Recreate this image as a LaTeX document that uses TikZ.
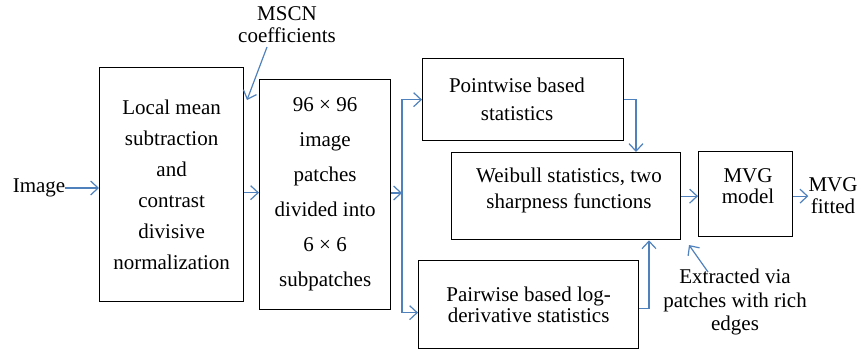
\documentclass[tikz,border=0pt]{standalone}
\usepackage{fontspec}
\newfontfamily\diagfont{Liberation Serif}
\usetikzlibrary{arrows.meta}
\definecolor{flowblue}{RGB}{79,129,189}
\newcommand\txt[1]{\diagfont\fontsize{21}{#1}\selectfont}
\tikzset{
  box/.style={draw=black, line width=1.3pt, inner sep=0pt, anchor=north west},
  lbl/.style={align=center, inner sep=0pt, font=\txt{23}},
  arr/.style={draw=flowblue, line width=1.2pt, -{Straight Barb[length=7.5pt,width=14pt,line width=1.2pt]}},
}
\begin{document}
\begin{tikzpicture}[x=1pt, y=-1pt]
\useasboundingbox (0,0) rectangle (858,353);

% processing blocks
\node[box, minimum width=144pt, minimum height=234pt, align=center,
      font=\txt{31}] (b1) at (99,67)
  {Local mean\\subtraction\\and\\contrast\\divisive\\normalization};
\node[box, minimum width=131pt, minimum height=230pt, align=center,
      font=\txt{35}] (b2) at (259,79)
  {96 × 96\\image\\patches\\divided into\\6 × 6\\subpatches};
\node[box, minimum width=201pt, minimum height=82pt] (pw) at (422,58) {};
\node[box, minimum width=229pt, minimum height=87pt] (wb) at (451,152) {};
\node[box, minimum width=94pt, minimum height=85pt] (mvg) at (698,151) {};
\node[box, minimum width=220pt, minimum height=88pt, align=center,
      font=\txt{21.5}] (pair) at (418,260)
  {Pairwise based log-\\derivative statistics};

% labels
\node[lbl] (img) at (39,188) {Image};
\node[lbl, font=\txt{22}] (mscn) at (287,25) {MSCN\\coefficients};
\node[lbl, font=\txt{28}] (pwtxt) at (517,99) {Pointwise based\\statistics};
\node[lbl, font=\txt{26}] (wbtxt) at (569,190) {Weibull statistics, two\\sharpness functions};
\node[lbl, font=\txt{21}] (mvgtxt) at (748,186) {MVG\\model};
\node[lbl, font=\txt{22}] (fitted) at (833,196) {MVG\\fitted};
\node[lbl, font=\txt{23.5}] (extr) at (735,302) {Extracted via\\patches with rich\\edges};

% helper points for the routed connectors
\coordinate (split) at (402,193);
\coordinate (pwDrop) at (636,0);
\coordinate (pairRise) at (649,0);
\coordinate (mscnFoot) at (267,47);
\coordinate (mscnTip) at (247,100);
\coordinate (extrFoot) at (708,272);
\coordinate (extrTip) at (689,245);

% connectors
\draw[arr] (img.east) -- (img.east -| b1.west);
\draw[arr] ([yshift=-8pt]b1.east) -- ([yshift=-8pt]b1.east -| b2.west);
\draw[arr] (b2.east |- split) -- (split);
\draw[arr] (split) |- (pw.west);
\draw[arr] (split) |- ([yshift=-8pt]pair.west);
\draw[arr] (pw.east) -| (pwDrop |- wb.north);
\draw[arr] ([yshift=-4pt]pair.east) -| (pairRise |- wb.south);
\draw[arr] (wb.east) -- (wb.east -| mvg.west);
\draw[arr] ([yshift=-2pt]mvg.east) -- ([yshift=-2pt]mvg.east -| fitted.west);
\draw[arr] (mscnFoot) -- (mscnTip);
\draw[arr] (extrFoot) -- (extrTip);
\end{tikzpicture}
\end{document}
